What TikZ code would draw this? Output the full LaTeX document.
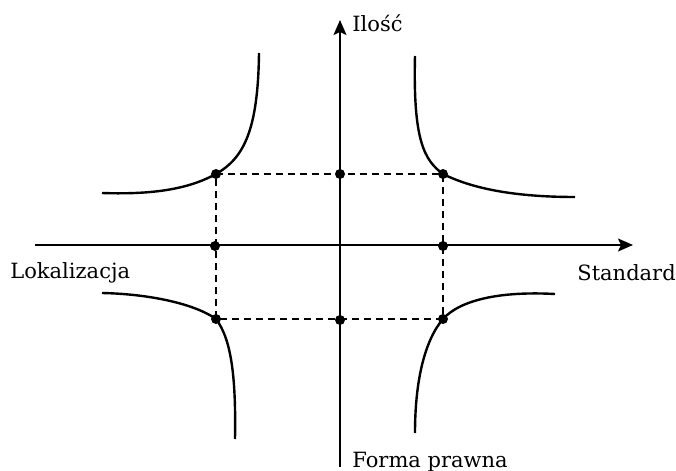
\documentclass[tikz,border=0pt]{standalone}
\usepackage{fontspec}
\setmainfont{DejaVu Serif}
\usetikzlibrary{arrows.meta}
\tikzset{
    axis/.style={line width=0.9pt, -{Stealth[length=7.5pt, width=6.5pt, inset=1.5pt]}},
    branch/.style={line width=1.2pt},
    guide/.style={line width=0.7pt, dash pattern=on 3.5pt off 2.5pt},
    dot/.style={circle, fill, inner sep=0pt, minimum size=5pt},
    axislabel/.style={font=\fontsize{10.5}{12}\selectfont, inner sep=0pt}
}

\begin{document}
\begin{tikzpicture}[x=0.5pt, y=-0.5pt]
    \useasboundingbox (0,0) rectangle (676,471);

    % Axis ends
    \coordinate (xs) at (35,245);
    \coordinate (xe) at (633,245);
    \coordinate (ys) at (340,467);
    \coordinate (ye) at (340,20);

    % Points
    \node[dot] (tl) at (216,174) {};
    \node[dot] (tm) at (340,174) {};
    \node[dot] (tr) at (443,174) {};
    \node[dot] (ml) at (215,246) {};
    \node[dot] (mr) at (443,246) {};
    \node[dot] (bl) at (216,319) {};
    \node[dot] (bm) at (340,320) {};
    \node[dot] (br) at (443,319) {};

    % Dashed rectangle
    \draw[guide] (tl.center) -- (tr.center) -- (br.center) -- (bl.center) -- cycle;

    % Axes
    \draw[axis] (xs) -- (xe);
    \draw[axis] (ys) -- (ye);

    % Hyperbola branches
    \draw[branch] (259,53) .. controls (258,130) and (244,158) .. (tl.center)
        .. controls (192,187) and (160,195) .. (102,193);
    \draw[branch] (415,56) .. controls (413,140) and (424,160) .. (tr.center)
        .. controls (475,190) and (520,197) .. (575,197);
    \draw[branch] (102,293) .. controls (150,294) and (195,304) .. (bl.center)
        .. controls (232,340) and (236,380) .. (235,439);
    \draw[branch] (555,294) .. controls (500,291) and (460,300) .. (br.center)
        .. controls (425,340) and (415,380) .. (415,433);

    % Labels
    \node[axislabel, anchor=base west] (ylab) at (352,32) {Ilość};
    \node[axislabel, anchor=base west] (xlab) at (10,278) {Lokalizacja};
    \node[axislabel, anchor=base west] (slab) at (577,280) {Standard};
    \node[axislabel, anchor=base west] (flab) at (352,467) {Forma prawna};
\end{tikzpicture}
\end{document}
